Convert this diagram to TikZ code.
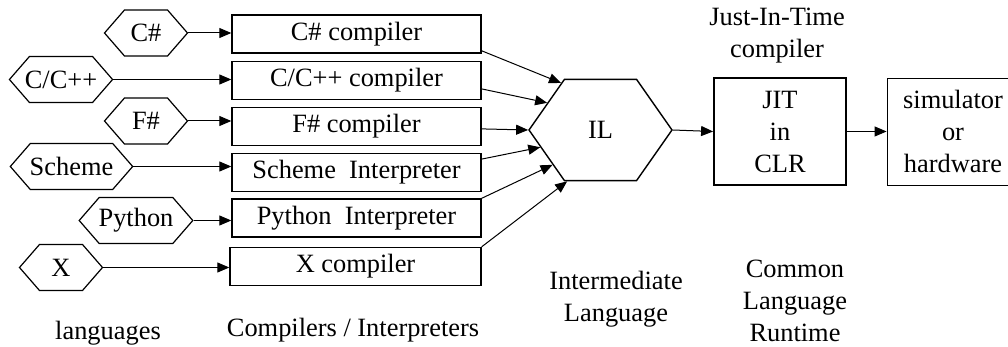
\documentclass[tikz,border=0pt]{standalone}
\usepackage{fontspec}
\setmainfont{Liberation Serif}
\usetikzlibrary{arrows.meta}
\usetikzlibrary{shapes.symbols}

\tikzset{
	lang/.style={draw, line width=0.6pt, signal, signal to=west and east, signal pointer angle=98, minimum height=23pt, minimum width=41.5pt, inner xsep=-0.3pt, inner ysep=1pt},
	tool/.style={draw, line width=0.7pt, minimum width=124.5pt, minimum height=19pt, inner sep=0pt},
	arr/.style={line width=0.5pt, -{Triangle[length=6pt,width=5pt]}},
}

\begin{document}
\begin{tikzpicture}[x=0.5pt, y=-0.5pt, every node/.style={font=\fontsize{13.2}{16}\selectfont}]
			\useasboundingbox (0,0) rectangle (1008,347);
			\clip (0,0) rectangle (1008,347);
			
			%languages
			\node[lang] (cs) at (146,33) {C\#};
			\node[lang, inner xsep=-2.3pt] (cpp) at (61,79.5) {C/C++};
			\node[lang] (fs) at (146,121) {F\#};
			\node[lang] (sch) at (71.5,166.5) {Scheme};
			\node[lang] (py) at (136,220.5) {Python};
			\node[lang] (x) at (61,267.5) {X};
			
			%compilers and interpreters
			\node[tool] (csc) at (356.5,34) {C\# compiler};
			\node[tool] (cppc) at (356.5,80.5) {C/C++ compiler};
			\node[tool] (fsc) at (356.5,126.5) {F\# compiler};
			\node[tool] (schi) at (356.5,172.5) {Scheme\ \ Interpreter};
			\node[tool] (pyi) at (356.5,218) {Python\ \ Interpreter};
			\node[tool, minimum width=125.5pt] (xc) at (355.5,266.5) {X compiler};
			
			%IL, JIT and target
			\node[draw, line width=0.7pt, signal, signal to=west and east, signal pointer angle=110, minimum width=71.5pt, inner xsep=0pt, inner ysep=21pt] (il) at (600.5,130) {IL};
			\node[draw, line width=0.9pt, minimum width=66pt, minimum height=53.5pt, align=center] (jit) at (780,131.5) {JIT\\in\\CLR};
			\node[draw, line width=0.4pt, minimum width=66pt, minimum height=53.5pt, align=center] (sim) at (953,131.5) {simulator\\or\\hardware};
			
			% add arrow
			\draw[arr] (cs.east) -- (cs.east -| csc.west);
			\draw[arr] (cpp.east) -- (cpp.east -| cppc.west);
			\draw[arr] (fs.east) -- (fs.east -| fsc.west);
			\draw[arr] (sch.east) -- (sch.east -| schi.west);
			\draw[arr] (py.east) -- (py.east -| pyi.west);
			\draw[arr] (x.east) -- (x.east -| xc.west);
			
			\draw[arr] ([yshift=-8.4pt]csc.east) -- (il.130);
			\draw[arr] ([yshift=-4.2pt]cppc.east) -- (il.153);
			\draw[arr] ([yshift=-1.2pt]fsc.east) -- (il.180);
			\draw[arr] ([yshift=6.7pt]schi.east) -- (il.196);
			\draw[arr] (pyi.north east) -- (il.216);
			\draw[arr] (xc.north east) -- (il.237);
			\draw[arr] (il.east) -- (jit.west);
			\draw[arr] (jit.east) -- (sim.west);
			
			%captions
			\node (langs) at (108,333) {languages};
			\node (tools) at (353,330) {Compilers / Interpreters};
			\node[align=center] (illabel) at (616,299) {Intermediate\\Language};
			\node[align=center] (clr) at (795,301) {Common\\Language\\Runtime};
			\node[align=center] (jitlabel) at (777,36) {Just-In-Time\\compiler};
			
		\end{tikzpicture}
\end{document}
